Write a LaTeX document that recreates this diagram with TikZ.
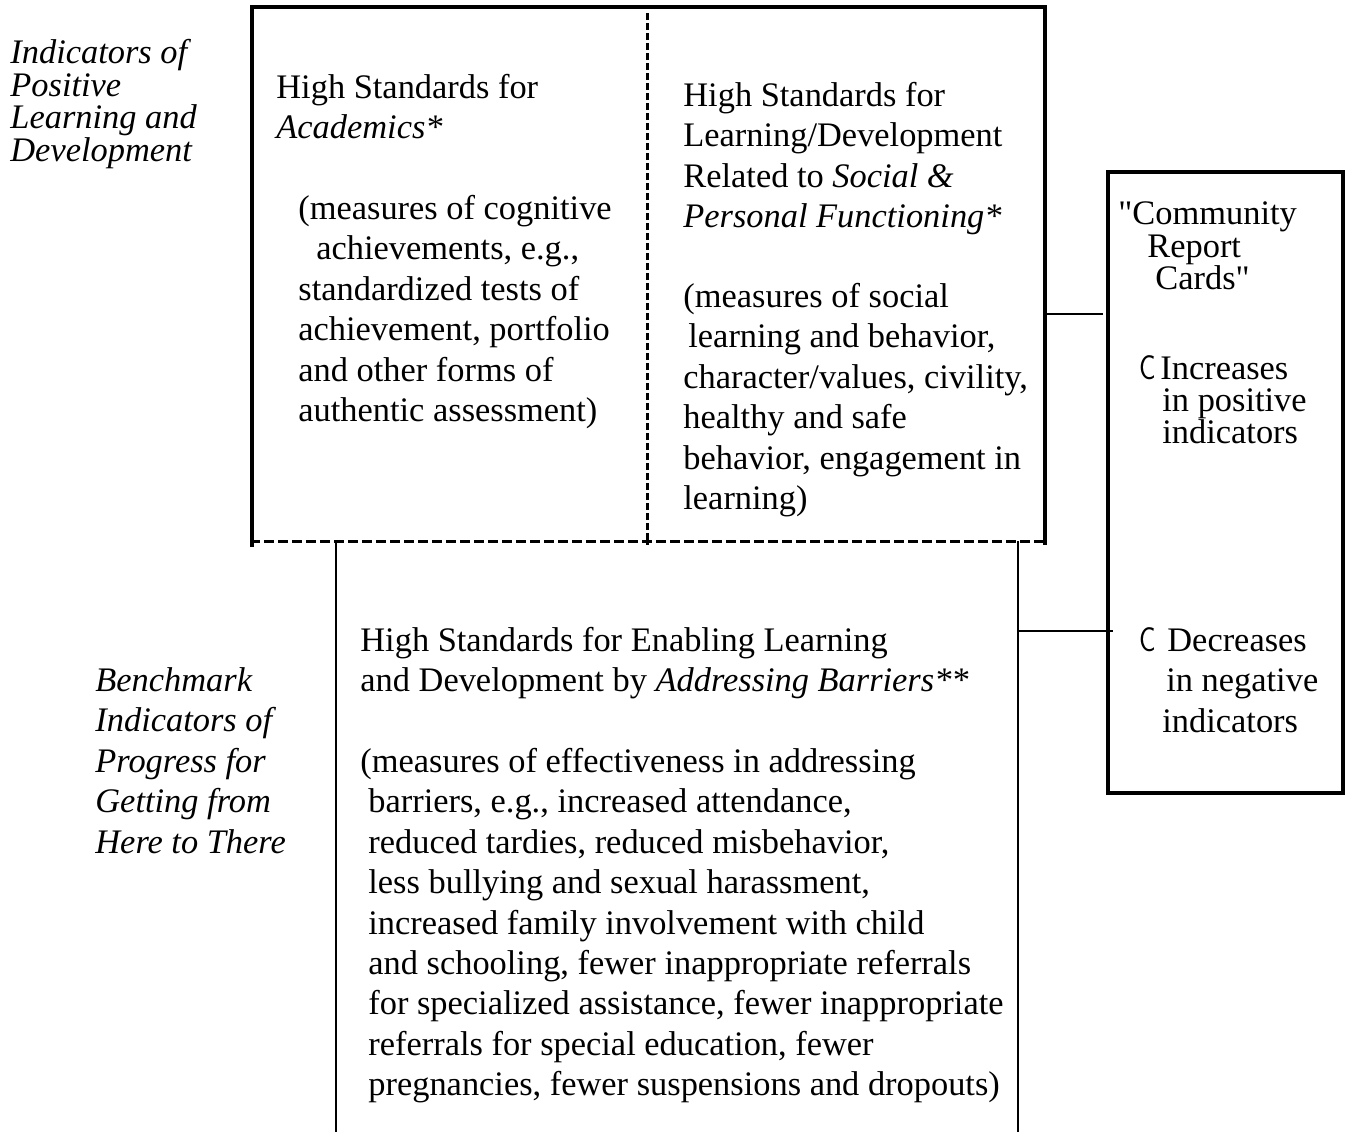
\documentclass[tikz,border=0pt]{standalone}
\usepackage{fontspec}
\usepackage{graphicx}
\setmainfont{Liberation Serif}
\newcommand{\thinC}{\scalebox{0.8}[1]{\sffamily C}}
\begin{document}
\begin{tikzpicture}[x=0.5pt,y=-0.5pt,
  txt/.style={anchor=north west, inner sep=0pt, align=left,
    font=\fontsize{17.2}{20.2}\selectfont},
  tight/.style={font=\fontsize{17.2}{16.3}\selectfont},
  lbl/.style={font=\itshape\fontsize{17.2}{16.3}\selectfont},
  lblwide/.style={font=\itshape\fontsize{17.2}{20.2}\selectfont},
  frame/.style={line width=1.6pt},
  dashframe/.style={line width=1.5pt, dash pattern=on 5pt off 2pt},
  vdash/.style={line width=1.5pt, dash pattern=on 3.5pt off 1.5pt},
  thinframe/.style={line width=1pt},
  link/.style={line width=1.2pt}]
\useasboundingbox (0,0) rectangle (1346,1132);
% frame coordinates
\coordinate (tl) at (252,7);
\coordinate (tr) at (1045,7);
\coordinate (blx) at (252,547);
\coordinate (brx) at (1045,545);
\coordinate (dl) at (250,541);
\coordinate (dr) at (1045,541);
\coordinate (mt) at (647,13);
\coordinate (mb) at (647,545);
\coordinate (lvt) at (336,541);
\coordinate (lvb) at (336,1132);
\coordinate (rvt) at (1018,541);
\coordinate (rvb) at (1018,1132);
\coordinate (rbtl) at (1108,172);
\coordinate (rbbr) at (1343,793);
\coordinate (c1a) at (1045,314);
\coordinate (c1b) at (1103,314);
\coordinate (c2a) at (1018,631);
\coordinate (c2b) at (1113,631);
% top frame
\draw[frame] (blx) -- (tl) -- (tr) -- (brx);
\draw[dashframe] (dl) -- (dr);
\draw[vdash] (mt) -- (mb);
% lower open frame
\draw[thinframe] (lvt) -- (lvb);
\draw[thinframe] (rvt) -- (rvb);
% right box
\draw[frame] (rbtl) rectangle (rbbr);
% connectors
\draw[link] (c1a) -- (c1b);
\draw[link] (c2a) -- (c2b);
% texts
\node[txt,lbl] (lbltop) at (10,35) {\rule{0pt}{14pt}Indicators of\\Positive\\Learning and\\Development};
\node[txt] (acatitle) at (276,70) {\rule{0pt}{14pt}High Standards for\\\textit{Academics*}};
\node[txt] (acabody) at (298,191) {\rule{0pt}{14pt}(measures of cognitive\\\hspace*{9pt}achievements, e.g.,\\standardized tests of\\achievement, portfolio\\and other forms of\\authentic assessment)};
\node[txt] (soctitle) at (683,78) {\rule{0pt}{14pt}High Standards for\\Learning/Development\\Related to \textit{Social \&}\\\textit{Personal Functioning*}};
\node[txt] (socbody) at (683,279) {\rule{0pt}{14pt}(measures of social\\\hspace*{2.5pt}learning and behavior,\\character/values, civility,\\healthy and safe\\behavior, engagement in\\learning)};
\node[txt] (bartitle) at (360,623) {\rule{0pt}{14pt}High Standards for Enabling Learning\\and Development by \textit{Addressing Barriers**}};
\node[txt] (barbody) at (360,744) {\rule{0pt}{14pt}(measures of effectiveness in addressing\\
\hspace*{4pt}barriers, e.g., increased attendance,\\
\hspace*{4pt}reduced tardies, reduced misbehavior,\\
\hspace*{4pt}less bullying and sexual harassment,\\
\hspace*{4pt}increased family involvement with child\\
\hspace*{4pt}and schooling, fewer inappropriate referrals\\
\hspace*{4pt}for specialized assistance, fewer inappropriate\\
\hspace*{4pt}referrals for special education, fewer\\
\hspace*{4pt}pregnancies, fewer suspensions and dropouts)};
\node[txt,lblwide] (lblbot) at (95,663) {\rule{0pt}{14pt}Benchmark\\Indicators of\\Progress for\\Getting from\\Here to There};
\node[txt,tight] (crc) at (1118,196) {\rule{0pt}{14pt}\textquotedbl Community\\\hspace*{14.5pt}Report\\\hspace*{18.5pt}Cards\textquotedbl};
\node[txt,font=\fontsize{17.2}{16}\selectfont] (inc) at (1139,351) {\rule{0pt}{14pt}\makebox[10.5pt][l]{\thinC}Increases\\\hspace*{11.5pt}in positive\\\hspace*{11.5pt}indicators};
\node[txt] (dec) at (1139,623) {\rule{0pt}{14pt}\makebox[14pt][l]{\thinC}Decreases\\\hspace*{13.5pt}in negative\\\hspace*{11.5pt}indicators};
\end{tikzpicture}
\end{document}
